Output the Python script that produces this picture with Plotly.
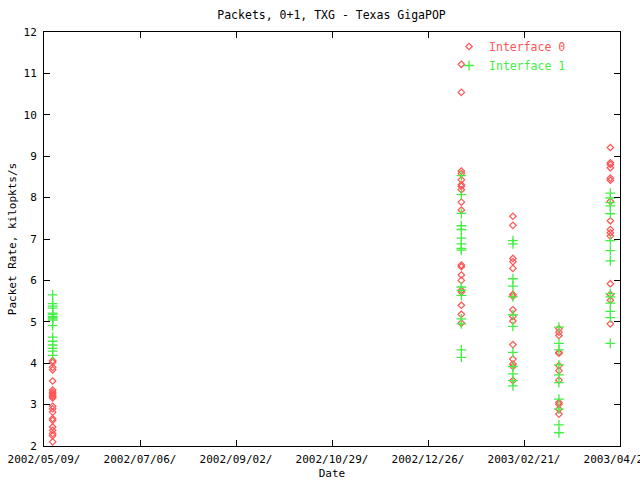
import plotly.graph_objects as go
from datetime import datetime, timedelta

# ---- data ----
cluster_dates = ["2002-05-14 11:00", "2003-01-15 20:00", "2003-02-15 22:00",
                 "2003-03-15 16:00", "2003-04-15 16:00"]

if0_values = [
    [4.06, 4.02, 3.90, 3.84, 3.57, 3.35, 3.30, 3.26, 3.22, 3.19, 3.16, 2.96, 2.90,
     2.82, 2.66, 2.62, 2.46, 2.38, 2.30, 2.25, 2.10],
    [11.22, 10.54, 8.64, 8.58, 8.43, 8.31, 8.27, 8.19, 7.89, 7.70, 6.37, 6.33, 6.13,
     6.00, 5.76, 5.72, 5.40, 5.18, 4.97],
    [7.55, 7.33, 6.53, 6.45, 6.29, 5.66, 5.62, 5.29, 5.13, 5.02, 4.45, 4.10, 3.98,
     3.92, 3.58],
    [4.83, 4.75, 4.67, 4.26, 4.24, 3.94, 3.82, 3.59, 3.05, 3.01, 2.89, 2.77],
    [9.21, 8.84, 8.80, 8.72, 8.47, 8.42, 7.91, 7.44, 7.23, 7.15, 7.07, 5.92, 5.66,
     5.52, 4.95],
]
if1_values = [
    [5.65, 5.44, 5.38, 5.33, 5.21, 5.18, 5.13, 5.10, 5.07, 5.04, 4.91, 4.63, 4.53,
     4.44, 4.36, 4.29, 4.19],
    [8.53, 8.07, 7.62, 7.32, 7.23, 7.02, 6.88, 6.77, 6.73, 5.84, 5.76, 5.64, 5.07,
     4.95, 4.32, 4.14],
    [6.96, 6.88, 6.04, 5.86, 5.60, 5.17, 4.89, 4.26, 3.92, 3.74, 3.58, 3.45],
    [4.87, 4.48, 4.32, 3.96, 3.72, 3.53, 3.13, 2.89, 2.51, 2.32],
    [8.11, 7.99, 7.88, 7.80, 7.61, 6.96, 6.72, 6.47, 5.68, 5.60, 5.45, 5.25, 5.10,
     4.48],
]

tick_labels = ["2002/05/09/", "2002/07/06/", "2002/09/02/", "2002/10/29/",
               "2002/12/26/", "2003/02/21/", "2003/04/20/"]
tick_start = datetime(2002, 5, 9, 6, 0)
tick_step = timedelta(seconds=5_000_000)

RED = "#ff5555"
GREEN = "#44ee44"
FONT = "DejaVu Sans Mono"


def expand(values):
    xs, ys = [], []
    for d, vals in zip(cluster_dates, values):
        for v in vals:
            xs.append(d)
            ys.append(v)
    return xs, ys


x0, y0 = expand(if0_values)
x1, y1 = expand(if1_values)

tick_vals = [tick_start + k * tick_step for k in range(len(tick_labels))]

fig = go.Figure()
fig.add_trace(go.Scatter(
    x=x0, y=y0, mode="markers",
    name=f"<span style='color:{RED}'>Interface 0</span>",
    marker=dict(symbol="diamond-open", size=5, color=RED, line=dict(width=1.2, color=RED)),
))
fig.add_trace(go.Scatter(
    x=x1, y=y1, mode="markers",
    name=f"<span style='color:{GREEN}'>Interface 1</span>",
    marker=dict(symbol="cross-thin-open", size=7, color=GREEN, line=dict(width=1.3, color=GREEN)),
))

fig.update_layout(
    width=640, height=480,
    margin=dict(l=44, r=20, t=32, b=34, autoexpand=False),
    paper_bgcolor="white", plot_bgcolor="white",
    font=dict(family=FONT, size=11, color="black"),
    title=dict(text="Packets, 0+1, TXG - Texas GigaPOP", x=0.518, xanchor="center",
               y=0.969, yanchor="middle", font=dict(family=FONT, size=11.5, color="black")),
    legend=dict(x=0.915, y=1.0, xanchor="right", yanchor="top",
                bgcolor="rgba(0,0,0,0)", font=dict(family=FONT, size=11.5),
                tracegroupgap=0, itemwidth=30),
    showlegend=True,
)
fig.update_xaxes(
    range=[tick_vals[0], tick_vals[-1]],
    tickvals=tick_vals, ticktext=tick_labels,
    ticks="inside", ticklen=6, tickcolor="black", tickwidth=1,
    showline=True, linecolor="black", linewidth=1, mirror="ticks",
    showgrid=False, zeroline=False, automargin=False,
    ticklabeloverflow="allow",
    tickfont=dict(family=FONT, size=11), ticklabelstandoff=3,
    title=dict(text="Date", font=dict(family=FONT, size=11), standoff=4),
)
fig.update_yaxes(
    range=[2, 12], dtick=1, tick0=2,
    ticks="inside", ticklen=6, tickcolor="black", tickwidth=1,
    showline=True, linecolor="black", linewidth=1, mirror="ticks",
    showgrid=False, zeroline=False, automargin=False,
    tickfont=dict(family=FONT, size=11), ticklabelstandoff=4,
    title=dict(text="Packet Rate, kilopkts/s", font=dict(family=FONT, size=11), standoff=4),
)

fig.write_html("out.html", config={"displayModeBar": False},
               post_script="document.body.style.margin='0';")
